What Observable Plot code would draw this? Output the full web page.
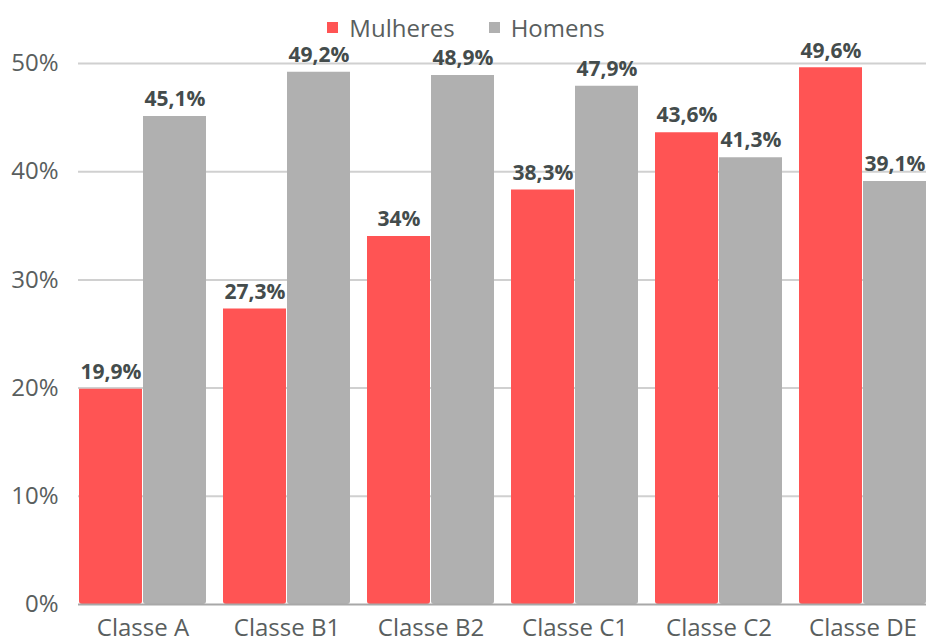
<!DOCTYPE html>
<html><head><meta charset="utf-8">
<script src="https://cdn.jsdelivr.net/npm/d3@7"></script>
<script src="https://cdn.jsdelivr.net/npm/@observablehq/plot@0.6"></script>
<style>
body{margin:0;background:#fff;font-family:"Open Sans",sans-serif;}
#legend{height:45px;display:flex;justify-content:center;align-items:center;font-size:24px;color:#595e5e;padding-top:10px;box-sizing:border-box;}
.item{display:flex;align-items:center;margin:0 17px;}
.sw{width:11px;height:11px;margin-right:11px;}
#chart svg{overflow:visible;}
</style></head><body>
<div id="legend"></div>
<div id="chart"></div>
<script>
const categories = ["Classe A","Classe B1","Classe B2","Classe C1","Classe C2","Classe DE"];
const series = ["Mulheres","Homens"];
const mulheres = [19.9, 27.3, 34, 38.3, 43.6, 49.6];
const homens = [45.1, 49.2, 48.9, 47.9, 41.3, 39.1];
const yTicks = [0, 10, 20, 30, 40, 50];
const colors = ["#ff5454", "#b0b0b0"];

const rows = [];
categories.forEach((c, i) => {
  rows.push({cat: c, s: series[0], v: mulheres[i]});
  rows.push({cat: c, s: series[1], v: homens[i]});
});
const fmt = v => String(v).replace(".", ",") + "%";

const leg = document.getElementById("legend");
series.forEach((s, i) => {
  const d = document.createElement("div"); d.className = "item";
  d.innerHTML = `<span class="sw" style="background:${colors[i]}"></span>${s}`;
  leg.appendChild(d);
});

const W = 932, H = 597;
const mk = s => rows.filter(r => r.s === s);
const chart = Plot.plot({
  width: W, height: H,
  marginLeft: 78, marginRight: 6, marginTop: 18, marginBottom: 38,
  style: {fontFamily: "Open Sans, sans-serif", fontSize: "24px", color: "#595e5e", background: "transparent", overflow: "visible"},
  x: {domain: categories, paddingInner: 17/144, paddingOuter: 0, label: null, tickSize: 0, tickPadding: 14},
  y: {domain: [0, 50], ticks: yTicks, tickFormat: d => d + "%", label: null, tickSize: 0, tickPadding: 20, grid: false},
  marks: [
    Plot.ruleY(yTicks.filter(t => t > 0), {stroke: "#d0d0d0", strokeWidth: 2}),
    Plot.barY(mk("Mulheres"), {x: "cat", y: "v", fill: colors[0], insetRight: 64, ry2: 3, rx: 3}),
    Plot.barY(mk("Homens"), {x: "cat", y: "v", fill: colors[1], insetLeft: 64, ry2: 3, rx: 3}),
    Plot.ruleY([0], {stroke: "#a8a8a8", strokeWidth: 2}),
    Plot.text(mk("Mulheres"), {x: "cat", y: "v", text: d => fmt(d.v), dx: -32, dy: -17, fontWeight: "bold", fontSize: 21, fill: "#444c4c"}),
    Plot.text(mk("Homens"), {x: "cat", y: "v", text: d => fmt(d.v), dx: 32, dy: -17, fontWeight: "bold", fontSize: 21, fill: "#444c4c"})
  ]
});
document.getElementById("chart").appendChild(chart);
</script>
</body></html>
